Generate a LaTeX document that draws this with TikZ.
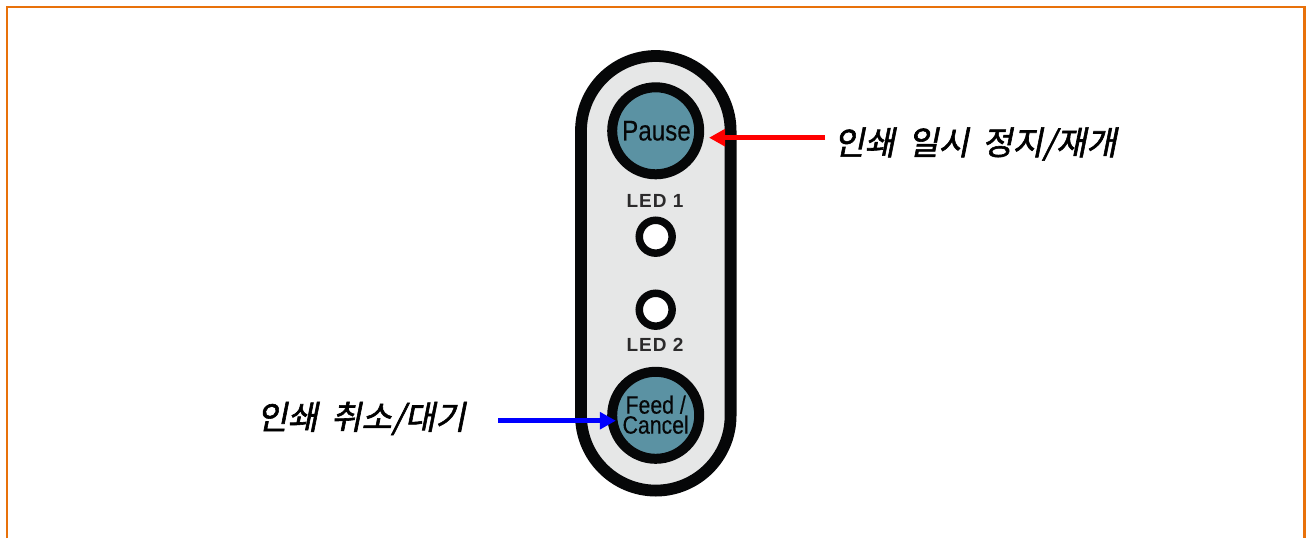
\documentclass[tikz,border=0pt]{standalone}
\usepackage{fontspec}
\setmainfont{Liberation Sans}
\newfontfamily\kr[FakeSlant=0.2,FakeBold=1.8,WordSpace=1.8]{Noto Sans CJK KR}
\newfontfamily\condensed[FakeStretch=0.85,FakeBold=0.3]{Liberation Sans}
\newfontfamily\spaced[LetterSpace=5]{Liberation Sans}
\usetikzlibrary{arrows.meta}
\definecolor{frameorange}{HTML}{E8710A}
\definecolor{panelgrey}{HTML}{E6E7E7}
\definecolor{ink}{HTML}{060708}
\definecolor{buttonteal}{HTML}{5B92A3}
\definecolor{ledtext}{HTML}{2B2A2B}
\tikzset{
  x=1pt,y=-1pt,
  button/.style={circle,draw=ink,fill=buttonteal,line width=10pt,minimum size=87pt,inner sep=0pt,align=center,text=ink},
  lamp/.style={circle,draw=ink,fill=white,line width=7.5pt,minimum size=32.9pt,inner sep=0pt},
  ledlabel/.style={text=ledtext,font=\spaced\fontsize{19}{19}\selectfont\bfseries,inner sep=0pt},
  callout/.style={font=\kr\fontsize{33}{33}\selectfont,text=black,inner sep=0pt,anchor=west},
  pointer/.style={line width=5.5pt,-{Triangle[length=16pt,width=16.5pt]}},
}
\begin{document}
\begin{tikzpicture}
\useasboundingbox (0,0) rectangle (1306,538);
% outer frame, open at the lower edge of the page
\draw[frameorange,line width=2.5pt] (7.2,538) -- (7.2,7.2) -- (1304.6,7.2) -- (1304.6,538);
% control panel
\draw[ink,fill=panelgrey,line width=11.8pt,rounded corners=75pt] (581,56) rectangle (730.6,490.6);
% buttons and indicators
\node[button,font=\condensed\fontsize{28.5}{28}\selectfont] (pause) at (655.7,130.8) {\hspace{1.5pt}\raisebox{-1pt}{Pause}};
\node[button,font=\condensed\fontsize{25}{20}\selectfont] (feed) at (655.7,415.3) {\raisebox{1.5pt}{Feed /}\\\raisebox{1.5pt}{Cancel}};
\node[lamp] (led1) at (655.7,236.7) {};
\node[lamp] (led2) at (655.7,309.7) {};
\node[ledlabel] (led1text) at (655,201) {LED 1};
\node[ledlabel] (led2text) at (655,345) {LED 2};
% callouts
\node[callout] (pausetext) at (834,144) {인쇄 일시 정지/재개};
\node[callout] (feedtext) at (257,418.5) {인쇄 취소/대기};
\coordinate (pausefrom) at (825,137.7);
\coordinate (feedfrom) at (498.3,420.7);
\draw[pointer,red,shorten >=4.8pt] (pausefrom) -- (pausefrom -| pause.east);
\draw[pointer,blue,shorten >=-8.7pt] (feedfrom) -- (feedfrom -| feed.west);
\end{tikzpicture}
\end{document}
